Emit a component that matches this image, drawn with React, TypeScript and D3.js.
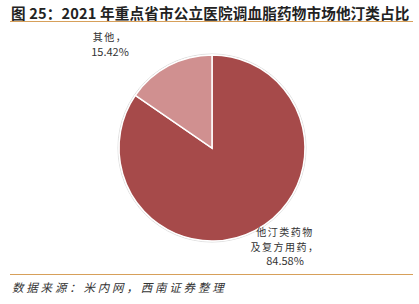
import React from "react";
import * as d3 from "d3";

const categories = ["他汀类药物及复方用药", "其他"];
const values = [84.58, 15.42];
const labelLines = [["他汀类药物", "及复方用药，", "84.58%"], ["其他，", "15.42%"]];
const colors = ["#A64A4A", "#D09090"];

export default function App() {
  const W = 419, H = 304;
  const cx = 212, cy = 148, r = 93;
  const pie = d3.pie<number>().sort(null).startAngle(0).endAngle(2 * Math.PI);
  const arcs = pie(values);
  const arc = d3.arc<d3.PieArcDatum<number>>().innerRadius(0).outerRadius(r);
  const labelPos = [[285, 236], [110, 41]];
  return (
    <svg width={W} height={H} style={{ position: "absolute", left: 0, top: 0, background: "#fff" }}>
      <text x={11} y={19} fontFamily="'Noto Sans CJK SC', sans-serif" fontWeight="bold" fontSize={14.6} letterSpacing={0.15} fill="#222">
        图 25：2021 年重点省市公立医院调血脂药物市场他汀类占比
      </text>
      <line x1={10} x2={413} y1={21.5} y2={21.5} stroke="#D7A05A" strokeWidth={1.2} />
      <g transform={`translate(${cx},${cy})`}>
        <circle r={r + 1} fill="none" stroke="#ddd" strokeWidth={1} />
        {arcs.map((a, i) => (
          <path key={categories[i]} d={arc(a) || ""} fill={colors[i]} stroke="#fff" strokeWidth={1.5} />
        ))}
      </g>
      {labelLines.map((lines, i) => (
        <text key={i} textAnchor="middle" fontFamily="'Noto Sans CJK SC', sans-serif" fontSize={10} letterSpacing={1.5} fill="#333">
          {lines.map((l, j) => (
            <tspan key={j} x={labelPos[i][0]} y={labelPos[i][1] + j * 14.5} letterSpacing={l.includes("%") ? 0 : 1.5} fontSize={l.includes("%") ? 11 : 10}>{l}</tspan>
          ))}
        </text>
      ))}
      <line x1={10} x2={413} y1={274.5} y2={274.5} stroke="#D7A05A" strokeWidth={1.2} />
      <text x={12} y={292} fontFamily="'Noto Sans CJK SC', sans-serif" fontStyle="italic" fontSize={11.5} letterSpacing={2.8} fill="#333">
        数据来源：米内网，西南证券整理
      </text>
    </svg>
  );
}
